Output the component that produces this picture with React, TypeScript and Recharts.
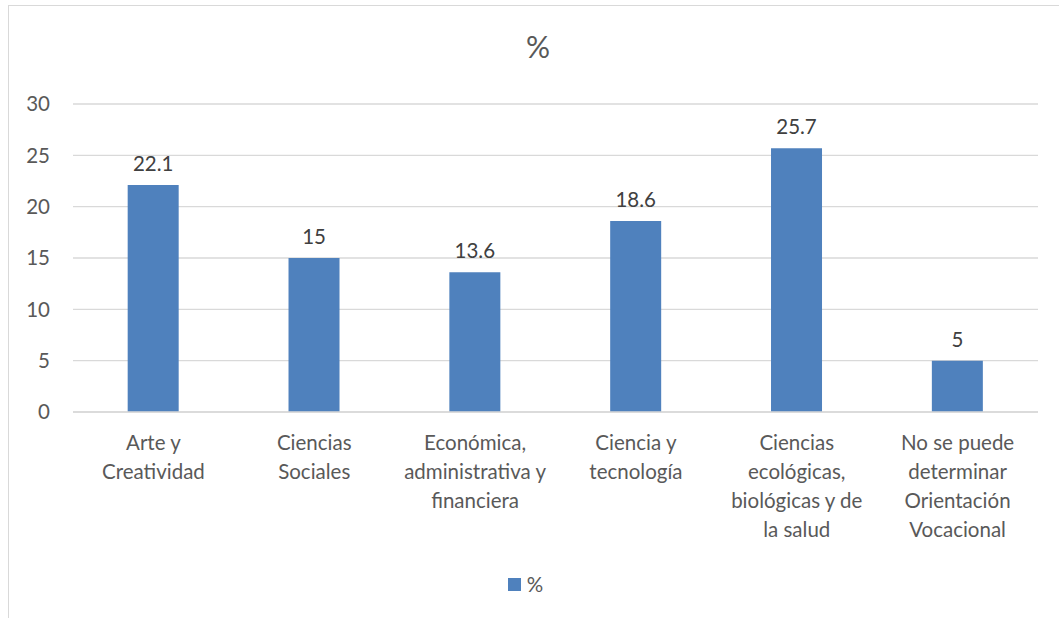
import React from "react";
import { BarChart, Bar, XAxis, YAxis, CartesianGrid, LabelList, Legend } from "recharts";

const categories = [
  "Arte y\nCreatividad",
  "Ciencias\nSociales",
  "Económica,\nadministrativa y\nfinanciera",
  "Ciencia y\ntecnología",
  "Ciencias\necológicas,\nbiológicas y de\nla salud",
  "No se puede\ndeterminar\nOrientación\nVocacional",
];
const values = [22.1, 15, 13.6, 18.6, 25.7, 5];
const yTicks = [0, 5, 10, 15, 20, 25, 30];
const seriesName = "%";
const title = "%";

const data = categories.map((c, i) => ({ name: c, value: values[i] }));

const FONT = "Lato, 'Open Sans', sans-serif";
const TEXT = "#595959";

const XTick = (props: any) => {
  const { x, y, payload } = props;
  const lines = String(payload.value).split("\n");
  return (
    <g transform={`translate(${x},${y})`}>
      <text textAnchor="middle" fill={TEXT} fontSize={20.5} fontFamily={FONT}>
        {lines.map((l: string, i: number) => (
          <tspan key={i} x={0} dy={i === 0 ? 30 : 29}>
            {l}
          </tspan>
        ))}
      </text>
    </g>
  );
};

const LegendContent = () => (
  <div style={{ display: "flex", justifyContent: "center", alignItems: "center", fontFamily: FONT, fontSize: 20.5, color: TEXT }}>
    <span style={{ display: "inline-block", width: 13, height: 13, background: "#4f81bd", marginRight: 6 }} />
    <span>{seriesName}</span>
  </div>
);

export default function App() {
  return (
    <div style={{ position: "absolute", left: 0, top: 0, width: 1059, height: 618, background: "#fff" }}>
      <div style={{ position: "absolute", left: 8, top: 5, width: 1100, height: 700, borderLeft: "1px solid #d9d9d9", borderTop: "1px solid #d9d9d9" }} />
      <div style={{ position: "absolute", left: 0, top: 28, width: 1076, textAlign: "center", fontFamily: FONT, fontSize: 30, color: TEXT }}>
        {title}
      </div>
      <div style={{ position: "absolute", left: 0, top: 0 }}>
        <BarChart width={1059} height={618} data={data} margin={{ top: 104, right: 21, bottom: 10, left: 13 }} barCategoryGap="34%">
          <CartesianGrid vertical={false} stroke="#d9d9d9" strokeWidth={1.3} />
          <XAxis dataKey="name" interval={0} height={160} tick={<XTick />} tickLine={false} axisLine={{ stroke: "#d9d9d9", strokeWidth: 1.3 }} />
          <YAxis domain={[0, 30]} ticks={yTicks} width={60} tickLine={false} tickSize={0} tickMargin={23} axisLine={false} tick={{ fill: TEXT, fontSize: 20.5, fontFamily: FONT }} />
          <Legend verticalAlign="bottom" height={36} content={<LegendContent />} />
          <Bar dataKey="value" name={seriesName} fill="#4f81bd" isAnimationActive={false}>
            <LabelList dataKey="value" position="top" offset={14} fill="#404040" fontSize={20.5} fontFamily={FONT} />
          </Bar>
        </BarChart>
      </div>
    </div>
  );
}
